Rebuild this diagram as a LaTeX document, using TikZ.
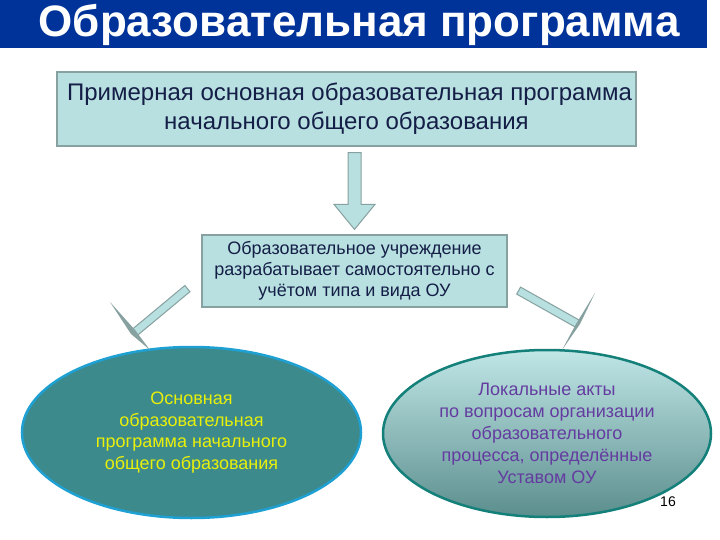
\documentclass[tikz,border=0pt]{standalone}
\usepackage{fontspec}
\setmainfont{Liberation Sans}
\usetikzlibrary{calc,shapes.geometric}
\definecolor{titleblue}{RGB}{0,51,153}
\definecolor{boxfill}{RGB}{184,224,225}
\definecolor{boxline}{RGB}{135,160,160}
\definecolor{textdark}{RGB}{20,30,70}
\definecolor{tealfill}{RGB}{61,138,140}
\definecolor{tealline}{RGB}{30,160,210}
\definecolor{yellowtext}{RGB}{232,240,10}
\definecolor{purpletext}{RGB}{100,60,160}
\definecolor{gradtop}{RGB}{192,230,230}
\definecolor{gradbot}{RGB}{92,142,142}
\definecolor{ellline}{RGB}{20,128,122}
\tikzset{
  infobox/.style={draw=boxline, line width=1.2pt, fill=boxfill, text=textdark, align=center, inner sep=0pt},
  blockarrow/.style={draw=boxline, line width=1pt, fill=boxfill},
  arrowhead/.style={fill=boxline, draw=none}
}
\begin{document}
\begin{tikzpicture}[x=1pt, y=-1pt]
\useasboundingbox (0,0) rectangle (720,540);
% title
\fill[titleblue] (0,0) rectangle (707,48);
\node[text=white, font=\bfseries\fontsize{44}{46}\selectfont] (T) at (359,25) {Образовательная программа};
% boxes
\node[infobox, minimum width=579pt, minimum height=74pt, font=\fontsize{24}{29}\selectfont] (P) at (346.5,109) {\hspace*{6pt}Примерная основная образовательная программа\\начального общего образования};
\node[infobox, minimum width=305pt, minimum height=72pt, font=\fontsize{18}{21}\selectfont] (M) at (354.5,271) {Образовательное учреждение\\разрабатывает самостоятельно с\\учётом типа и вида ОУ};
\node[ellipse, draw=tealline, line width=2.5pt, fill=tealfill, text=yellowtext, align=center, inner sep=0pt, minimum width=339pt, minimum height=171pt, font=\fontsize{18}{21.5}\selectfont] (A) at (191.5,432.5) {Основная\\образовательная\\программа начального\\общего образования};
\node[ellipse, draw=ellline, line width=2.5pt, top color=gradtop, bottom color=gradbot, text=purpletext, align=center, inner sep=0pt, minimum width=328pt, minimum height=167pt, font=\fontsize{18}{22}\selectfont] (B) at (547,433.5) {Локальные акты\\по вопросам организации\\образовательного\\процесса, определённые\\Уставом ОУ};
\node[font=\fontsize{14}{16}\selectfont] (num) at (668,502) {16};
% down arrow
\draw[blockarrow] ($(P.south -| M.north)+(-6.5,6)$) -- ($(P.south -| M.north)+(6.5,6)$) -- ($(M.north)+(6.5,-30)$) -- ($(M.north)+(20.5,-30)$) -- ($(M.north)+(0,-5)$) -- ($(M.north)+(-20.5,-30)$) -- ($(M.north)+(-6.5,-30)$) -- cycle;
% side arrows
\coordinate (l1) at ($(M.south west)+(-14,-19)$);
\coordinate (l2) at (134,333);
\coordinate (r1) at ($(M.south east)+(11,-17)$);
\coordinate (r2) at (578,324);
\draw[blockarrow] ($(l1)!4pt!90:(l2)$) -- ($(l2)!4pt!-90:(l1)$) -- ($(l2)!4pt!90:(l1)$) -- ($(l1)!4pt!-90:(l2)$) -- cycle;
\fill[arrowhead] (110,302) -- (135,330) -- (150,350) -- (131,334) -- cycle;
\draw[blockarrow] ($(r1)!4pt!90:(r2)$) -- ($(r2)!4pt!-90:(r1)$) -- ($(r2)!4pt!90:(r1)$) -- ($(r1)!4pt!-90:(r2)$) -- cycle;
\fill[arrowhead] (595,293) -- (580,324) -- (562,350) -- (576,324) -- cycle;
\end{tikzpicture}
\end{document}
